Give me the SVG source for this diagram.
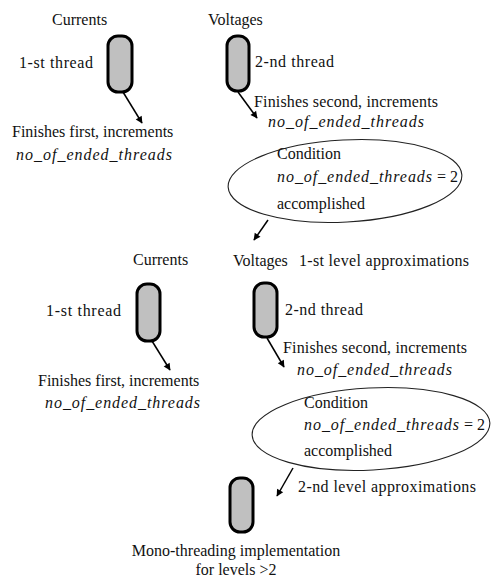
<svg xmlns="http://www.w3.org/2000/svg" width="494" height="579" viewBox="0 0 494 579">
<style>
text{font-family:"Liberation Serif","Times New Roman",serif;font-size:16px;fill:#111}
.it{font-style:italic}
.pill{fill:#c0c0c0;stroke:#000;stroke-width:3}
.ell{fill:none;stroke:#222;stroke-width:1.1}
.arr{stroke:#000;stroke-width:1.5;fill:none;marker-end:url(#ah)}
</style>
<defs>
<marker id="ah" viewBox="0 0 10 10" refX="9" refY="5" markerWidth="8" markerHeight="7" markerUnits="userSpaceOnUse" orient="auto" overflow="visible">
<path d="M0,0 L10,5 L0,10 z" fill="#000"/>
</marker>
</defs>
<rect width="494" height="579" fill="#fff"/>

<g id="labels-top">
<text x="52" y="25">Currents</text>
<text x="208" y="25">Voltages</text>
</g>
<g id="thread1a">
<rect class="pill" x="108" y="36" width="24" height="56" rx="10"/>
<text x="19" y="68" textLength="74" lengthAdjust="spacing">1-st thread</text>
</g>
<g id="thread2a">
<rect class="pill" x="227" y="36" width="22" height="55" rx="10"/>
<text x="255" y="67" textLength="79" lengthAdjust="spacing">2-nd thread</text>
</g>
<g id="finish1a">
<text x="12" y="137">Finishes first, increments</text>
<text class="it" x="16" y="160" textLength="156" lengthAdjust="spacing">no_of_ended_threads</text>
</g>
<g id="finish2a">
<text x="254" y="107" textLength="184" lengthAdjust="spacing">Finishes second, increments</text>
<text class="it" x="268" y="127" textLength="156" lengthAdjust="spacing">no_of_ended_threads</text>
</g>
<g id="cond1">
<ellipse class="ell" cx="345" cy="181" rx="117" ry="41" transform="rotate(-3 345 181)"/>
<text x="277" y="159">Condition</text>
<text x="277" y="182"><tspan class="it" textLength="155" lengthAdjust="spacing">no_of_ended_threads</tspan> = 2</text>
<text x="277" y="209">accomplished</text>
</g>

<g id="labels-mid">
<text x="133" y="265">Currents</text>
<text x="233" y="266">Voltages</text>
<text x="299" y="266" textLength="170" lengthAdjust="spacing">1-st level approximations</text>
</g>
<g id="thread1b">
<rect class="pill" x="137" y="284" width="23" height="57" rx="10"/>
<text x="46" y="316" textLength="75" lengthAdjust="spacing">1-st thread</text>
</g>
<g id="thread2b">
<rect class="pill" x="254" y="283" width="23" height="54" rx="10"/>
<text x="285" y="315" textLength="78" lengthAdjust="spacing">2-nd thread</text>
</g>
<g id="finish1b">
<text x="38" y="386">Finishes first, increments</text>
<text class="it" x="45" y="408" textLength="155" lengthAdjust="spacing">no_of_ended_threads</text>
</g>
<g id="finish2b">
<text x="283" y="353" textLength="184" lengthAdjust="spacing">Finishes second, increments</text>
<text class="it" x="297" y="375" textLength="155" lengthAdjust="spacing">no_of_ended_threads</text>
</g>
<g id="cond2">
<ellipse class="ell" cx="371" cy="429" rx="119" ry="41" transform="rotate(-3 371 429)"/>
<text x="304" y="408">Condition</text>
<text x="304" y="430"><tspan class="it" textLength="155" lengthAdjust="spacing">no_of_ended_threads</tspan> = 2</text>
<text x="304" y="456">accomplished</text>
</g>
<g id="level2">
<text x="298" y="492" textLength="178" lengthAdjust="spacing">2-nd level approximations</text>
</g>
<g id="mono">
<rect class="pill" x="230" y="478" width="23" height="54" rx="10"/>
<text x="236" y="556" text-anchor="middle">Mono-threading implementation</text>
<text x="236" y="575" text-anchor="middle">for levels &gt;2</text>
</g>

<g id="connectors">
<line class="arr" x1="123" y1="92" x2="142" y2="123"/>
<line class="arr" x1="238" y1="92" x2="257" y2="118"/>
<line class="arr" x1="268" y1="220" x2="254" y2="240"/>
<line class="arr" x1="152" y1="341" x2="170" y2="370"/>
<line class="arr" x1="267" y1="338" x2="284" y2="367"/>
<line class="arr" x1="293" y1="468" x2="277" y2="496"/>
</g>
</svg>
